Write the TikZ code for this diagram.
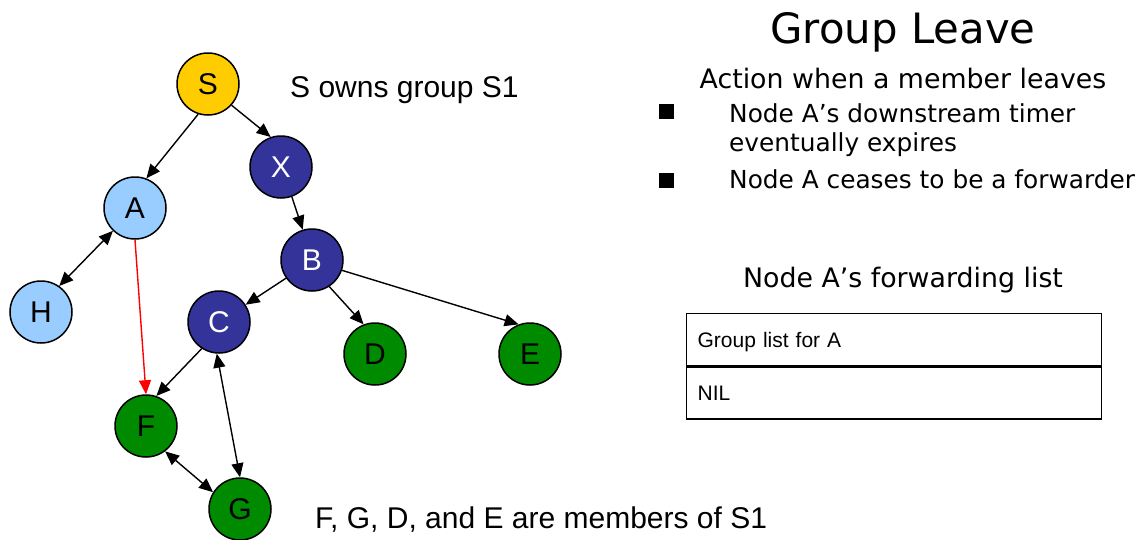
\documentclass[tikz,border=0pt]{standalone}
\usepackage{fontspec}
\setmainfont{Liberation Sans}
\newfontfamily\slidefont{DejaVu Sans}
\usetikzlibrary{arrows.meta,positioning}
\definecolor{glyellow}{HTML}{FFCC00}
\definecolor{glsky}{HTML}{99CCFF}
\definecolor{glnavy}{HTML}{333399}
\definecolor{glgreen}{HTML}{008A00}
\tikzset{
  gl/peer/.style={
    circle, draw=black, line width=1.5pt, minimum size=62pt, inner sep=0pt,
    font=\fontsize{30}{34}\selectfont
  },
  gl/owner/.style={gl/peer, fill=glyellow},
  gl/gone/.style={gl/peer, fill=glsky},
  gl/fwd/.style={gl/peer, fill=glnavy, text=white},
  gl/member/.style={gl/peer, fill=glgreen},
  gl/arr/.style={-{Triangle[length=14pt,width=12pt]}, line width=1.4pt},
  gl/both/.style={{Triangle[length=14pt,width=12pt]}-{Triangle[length=14pt,width=12pt]}, line width=1.4pt},
  gl/cut/.style={gl/arr, red},
  gl/note/.style={anchor=base west, inner sep=0pt, font=\fontsize{30}{34}\selectfont},
  gl/head/.style={anchor=base, inner sep=0pt, font=\slidefont\fontsize{26.8}{32}\selectfont},
  gl/item/.style={anchor=base west, inner sep=0pt, font=\slidefont\fontsize{24.8}{30}\selectfont},
  gl/bullet/.style={fill=black, minimum size=15pt, inner sep=0pt},
  gl/cell/.style={
    draw=black, line width=1.3pt, anchor=north west, minimum width=415pt, minimum height=52pt,
    text width=393pt, inner xsep=11pt, align=left, text height=15pt, text depth=0pt,
    font=\fontsize{21}{25}\selectfont
  }
}
\begin{document}
\begin{tikzpicture}[x=1pt, y=-1pt]
  \path[fill=white, use as bounding box] (0,0) rectangle (1138,539);

  % tree of the group S1
  \node[gl/owner]  (S) at (208,84)  {S};
  \node[gl/fwd]    (X) at (281,167) {X};
  \node[gl/gone]   (A) at (135,208) {A};
  \node[gl/fwd]    (B) at (312,260) {B};
  \node[gl/gone]   (H) at (41,312)  {H};
  \node[gl/fwd]    (C) at (219,322) {C};
  \node[gl/member] (D) at (375,354) {D};
  \node[gl/member] (E) at (530,354) {E};
  \node[gl/member] (F) at (146,426) {F};
  \node[gl/member] (G) at (240,509) {G};

  \draw[gl/arr] (S.252) -- (A.69);
  \draw[gl/arr] (S.318) -- (X.109);
  \draw[gl/arr] (X.290) -- (B.107);
  \draw[gl/arr] (B.215) -- (C.33);
  \draw[gl/arr] (B.303) -- (D.111);
  \draw[gl/arr] (B.341) -- (E.111);
  \draw[gl/cut] (A.south) -- (F.north);
  \draw[gl/both] (H.55) -- (A.226);
  \draw[gl/arr] (C.237) -- (F.71);
  \draw[gl/both] (C.266) -- (G.north);
  \draw[gl/both] (F.307) -- (G.148);

  \node[gl/note] (owns) at (290,97) {S owns group S1};
  \node[gl/note] (members) at (315,528) {F, G, D, and E are members of S1};

  % right column
  \node[anchor=base, inner sep=0pt, font=\slidefont\fontsize{41.8}{48}\selectfont] (title) at (903,43) {Group Leave};
  \node[gl/head] (action) at (903,88) {Action when a member leaves};
  \node[gl/bullet] (dot1) at (666,111) {};
  \node[gl/item] (item1) at (729,122) {Node A’s downstream timer};
  \node[gl/item] (item1b) at (729,151) {eventually expires};
  \node[gl/bullet] (dot2) at (666,180) {};
  \node[gl/item] (item2) at (729,188) {Node A ceases to be a forwarder};

  \node[gl/head] (listcap) at (903,287) {Node A’s forwarding list};
  \node[gl/cell] (row1) at (686,313) {Group list for A};
  \node[gl/cell, below=0pt of row1] (row2) {NIL};
\end{tikzpicture}
\end{document}
